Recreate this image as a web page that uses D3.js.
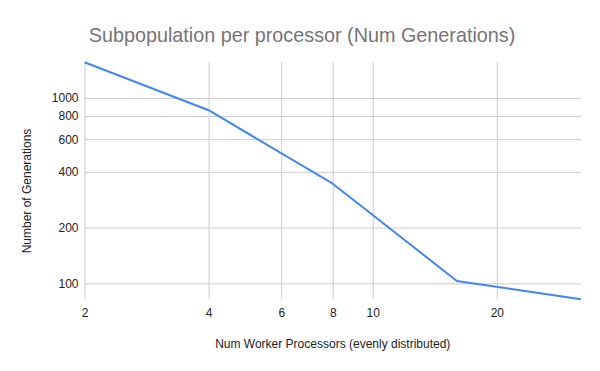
<!DOCTYPE html>
<html>
<head>
<meta charset="utf-8">
<script src="https://cdn.jsdelivr.net/npm/d3@7"></script>
<style>
  body { margin: 0; background: #fff; }
  text { font-family: "Liberation Sans", Arial, sans-serif; }
</style>
</head>
<body>
<div class="chart"></div>
<script>
// values
const workers = [2, 4, 8, 16, 32];
const generations = [1560, 860, 345, 103, 82];
const xTicks = [2, 4, 6, 8, 10, 20];
const yTicks = [100, 200, 400, 600, 800, 1000];

const width = 600, height = 371;
const margin = { top: 62.3, right: 19, bottom: 71.7, left: 84.5 };

const svg = d3.select(".chart")
  .append("svg")
  .attr("width", width)
  .attr("height", height);

const x = d3.scaleLog()
  .domain(d3.extent(workers))
  .range([margin.left, width - margin.right]);

const y = d3.scaleLog()
  .domain(d3.extent(generations))
  .range([height - margin.bottom, margin.top]);

// gridlines
svg.append("g")
  .attr("transform", `translate(0,${height - margin.bottom})`)
  .call(d3.axisBottom(x).tickValues(xTicks).tickFormat(d3.format("d"))
    .tickSize(-(height - margin.top - margin.bottom)).tickPadding(9))
  .call(g => g.select(".domain").remove())
  .call(g => g.selectAll(".tick line").attr("stroke", "#cccccc"))
  .call(g => g.selectAll(".tick text").attr("font-size", 12).attr("fill", "#222")
    .attr("font-family", "Liberation Sans, Arial, sans-serif"));

svg.append("g")
  .attr("transform", `translate(${margin.left},0)`)
  .call(d3.axisLeft(y).tickValues(yTicks).tickFormat(d3.format("d"))
    .tickSize(-(width - margin.left - margin.right)).tickPadding(6))
  .call(g => g.select(".domain").remove())
  .call(g => g.selectAll(".tick line").attr("stroke", "#cccccc"))
  .call(g => g.selectAll(".tick text").attr("font-size", 12).attr("fill", "#222")
    .attr("font-family", "Liberation Sans, Arial, sans-serif"));

const line = d3.line()
  .x((d, i) => x(workers[i]))
  .y(d => y(d));

svg.append("path")
  .datum(generations)
  .attr("fill", "none")
  .attr("stroke", "#4285f4")
  .attr("stroke-width", 2)
  .attr("stroke-linejoin", "round")
  .attr("d", line);

svg.append("text")
  .attr("x", 302)
  .attr("y", 42)
  .attr("text-anchor", "middle")
  .attr("font-size", 19.8)
  .attr("fill", "#757575")
  .text("Subpopulation per processor (Num Generations)");

svg.append("text")
  .attr("x", (margin.left + width - margin.right) / 2)
  .attr("y", 348)
  .attr("text-anchor", "middle")
  .attr("font-size", 12)
  .attr("fill", "#222")
  .text("Num Worker Processors (evenly distributed)");

svg.append("text")
  .attr("transform", "translate(31,191) rotate(-90)")
  .attr("text-anchor", "middle")
  .attr("font-size", 12)
  .attr("fill", "#222")
  .text("Number of Generations");
</script>
</body>
</html>
